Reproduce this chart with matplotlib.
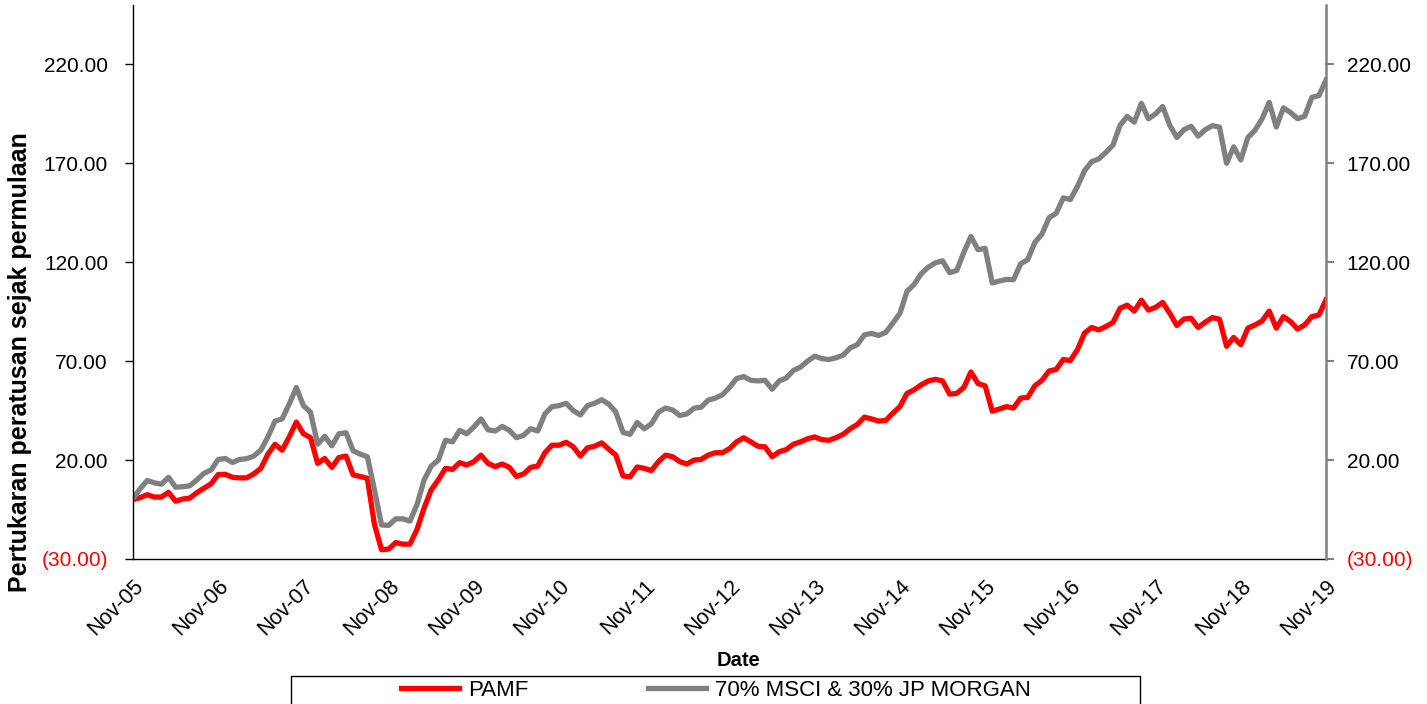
import matplotlib
matplotlib.use("Agg")
import matplotlib.pyplot as plt
from matplotlib.patches import Rectangle
import numpy as np

plt.rcParams['font.family'] = ['Liberation Sans', 'DejaVu Sans']

# monthly % change since inception, Nov-05 .. Nov-19
pamf = [
    0.0, 1.0, 2.5, 1.3, 1.3, 3.7, -0.8, 0.3, 0.8, 3.5,
    5.8, 8.0, 12.7, 12.8, 11.3, 11.0, 11.0, 13.0, 15.8, 23.0,
    28.0, 25.0, 31.7, 39.2, 33.3, 31.3, 18.3, 20.8, 16.3, 21.3,
    22.0, 12.5, 11.7, 10.8, -12.5, -25.3, -25.0, -21.7, -22.5, -22.5,
    -15.0, -4.2, 5.0, 10.0, 15.8, 15.3, 18.7, 17.5, 19.2, 22.5,
    18.3, 16.7, 18.0, 16.3, 11.7, 13.0, 16.3, 17.0, 23.7, 27.5,
    27.5, 29.0, 26.7, 22.0, 26.2, 27.0, 28.7, 25.5, 22.5, 12.0,
    11.5, 16.5, 15.8, 14.7, 19.2, 22.5, 21.7, 19.2, 18.0, 20.0,
    20.3, 22.5, 23.7, 23.7, 25.8, 29.2, 31.3, 29.2, 27.0, 26.7,
    21.7, 24.2, 25.3, 28.0, 29.2, 30.8, 31.7, 30.3, 30.0, 31.3,
    33.0, 35.8, 38.0, 41.7, 40.8, 39.7, 40.0, 43.7, 47.0, 53.7,
    55.5, 58.0, 60.0, 60.8, 60.0, 53.3, 53.7, 56.7, 64.5, 58.7,
    57.5, 44.7, 45.8, 47.0, 46.3, 51.3, 51.7, 57.5, 60.3, 65.0,
    65.8, 70.8, 70.3, 75.8, 84.2, 87.0, 85.8, 87.5, 89.5, 96.7,
    98.3, 95.3, 100.8, 95.8, 97.2, 99.7, 94.2, 88.0, 91.3, 91.7,
    87.0, 89.7, 92.0, 91.2, 77.5, 82.0, 78.3, 86.7, 88.3, 90.3,
    95.3, 86.7, 92.5, 90.0, 86.2, 88.3, 92.5, 93.3, 101.0,
]
benchmark = [
    0.5, 5.5, 9.7, 8.5, 7.8, 11.3, 6.3, 6.5, 7.0, 10.0,
    13.3, 15.0, 20.3, 20.8, 18.8, 20.3, 20.7, 22.0, 25.0, 31.7,
    39.7, 40.8, 48.3, 56.7, 47.5, 44.2, 28.0, 32.0, 27.2, 33.3,
    33.8, 24.7, 23.0, 21.7, 5.0, -12.8, -13.0, -9.7, -9.7, -10.8,
    -2.5, 10.0, 17.0, 20.0, 30.0, 29.2, 35.0, 33.3, 36.7, 40.8,
    35.3, 34.7, 37.0, 35.0, 31.3, 32.5, 35.8, 34.7, 43.3, 47.0,
    47.5, 48.7, 45.0, 42.8, 47.5, 48.7, 50.5, 48.3, 44.2, 34.0,
    33.0, 39.0, 35.8, 38.3, 44.2, 46.3, 45.3, 42.5, 43.3, 46.2,
    46.7, 50.3, 51.3, 53.0, 56.7, 61.2, 62.2, 60.3, 60.0, 60.3,
    55.8, 60.0, 61.5, 65.3, 67.0, 70.0, 72.5, 71.3, 70.8, 71.7,
    73.0, 76.7, 78.3, 83.3, 84.0, 83.0, 84.5, 89.2, 94.2, 105.3,
    108.8, 114.2, 117.5, 119.7, 120.7, 114.7, 115.8, 125.0, 133.0, 126.3,
    127.0, 109.5, 110.5, 111.3, 111.2, 119.2, 121.3, 130.0, 134.2, 142.5,
    144.7, 152.5, 151.7, 158.3, 166.3, 170.8, 172.2, 175.5, 179.2, 189.2,
    193.7, 190.8, 200.3, 192.5, 195.0, 198.7, 189.2, 183.0, 187.0, 188.7,
    183.7, 187.0, 189.0, 188.3, 170.0, 178.3, 171.7, 183.0, 186.7, 192.5,
    200.8, 188.3, 198.0, 195.7, 192.5, 193.8, 203.3, 204.2, 212.0,
]
xtick_labels = ['Nov-05', 'Nov-06', 'Nov-07', 'Nov-08', 'Nov-09', 'Nov-10', 'Nov-11',
                'Nov-12', 'Nov-13', 'Nov-14', 'Nov-15', 'Nov-16', 'Nov-17', 'Nov-18', 'Nov-19']
ytick_vals = [-30, 20, 70, 120, 170, 220]

months = np.arange(len(pamf))

fig = plt.figure(figsize=(14.27, 7.04), dpi=100)
ax = fig.add_axes([133 / 1427, 1 - 559 / 704, (1326 - 133) / 1427, (559 - 5) / 704])

ax.plot(months, pamf, color='#ff0000', lw=3.8, label='PAMF', solid_joinstyle='round')
ax.plot(months, benchmark, color='#808080', lw=3.8, label='70% MSCI & 30% JP MORGAN',
        solid_joinstyle='round')

ax.set_xlim(0, len(pamf) - 1)
ax.set_ylim(-30, 250)
ax.set_xticks(np.arange(0, len(pamf), 12))
ax.set_xticklabels(xtick_labels, rotation=45, ha='right', rotation_mode='anchor', fontsize=15.5)
ax.tick_params(axis='x', length=0, pad=12)


def fmt(v):
    return f'({abs(v):.2f})' if v < 0 else f'{v:.2f}'


ax.set_yticks(ytick_vals)
ax.set_yticklabels([fmt(v) for v in ytick_vals], fontsize=15)
ax.tick_params(axis='y', length=6, width=1, pad=12)
for lab, v in zip(ax.get_yticklabels(), ytick_vals):
    lab.set_color('#ff0000' if v < 0 else 'black')

ax.spines['top'].set_visible(False)
ax.spines['right'].set_visible(False)
ax.spines['left'].set_linewidth(1.0)
ax.spines['bottom'].set_linewidth(1.0)

ax2 = ax.twinx()
ax2.set_ylim(ax.get_ylim())
ax2.set_yticks(ytick_vals)
ax2.set_yticklabels([fmt(v) for v in ytick_vals], fontsize=15)
ax2.tick_params(axis='y', length=6, width=1.5, color='#808080', pad=9)
for lab, v in zip(ax2.get_yticklabels(), ytick_vals):
    lab.set_color('#ff0000' if v < 0 else 'black')
for s in ['top', 'left', 'bottom']:
    ax2.spines[s].set_visible(False)
ax2.spines['right'].set_color('#808080')
ax2.spines['right'].set_linewidth(1.8)

fig.text(20 / 1427, 1 - 362 / 704, 'Pertukaran peratusan sejak permulaan', rotation=90,
         ha='center', va='center', fontsize=18, fontweight='bold')
fig.text(738 / 1427, 1 - 660 / 704, 'Date', ha='center', va='center',
         fontsize=14.5, fontweight='bold')

fig.patches.append(Rectangle((291 / 1427, -0.02), (1140 - 291) / 1427, 0.02 + 1 - 676 / 704,
                             transform=fig.transFigure, fill=False, edgecolor='black', lw=1))
handles, labels = ax.get_legend_handles_labels()
fig.legend(handles, labels, loc='center', bbox_to_anchor=(716 / 1427, 1 - 690 / 704),
           ncol=2, frameon=False, fontsize=16, handlelength=2.6, handletextpad=0.4,
           columnspacing=5.4, borderpad=0, borderaxespad=0)

fig.savefig('out.png', dpi=100)
